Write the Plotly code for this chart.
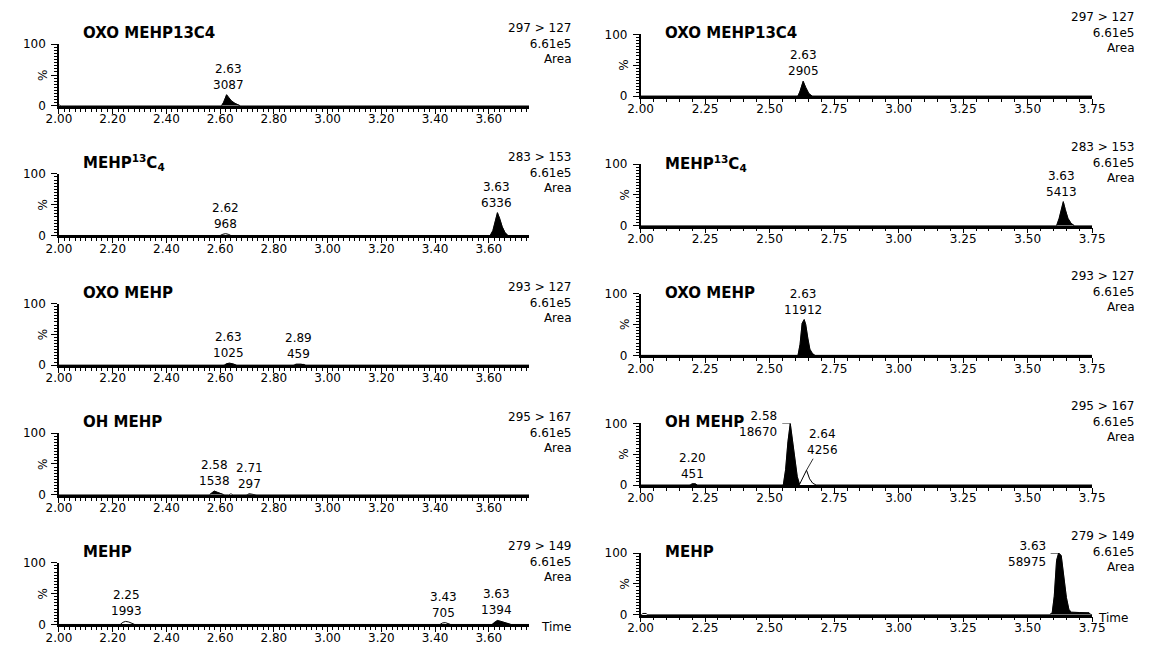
import plotly.graph_objects as go

# ------------------------------------------------------------------ data
titles = ["OXO MEHP13C4", "MEHP<sup>13</sup>C<sub>4</sub>", "OXO MEHP", "OH MEHP", "MEHP"]
transitions = ["297 > 127", "283 > 153", "293 > 127", "295 > 167", "279 > 149"]
intensity = "6.61e5"
left_ticks = [2.00, 2.20, 2.40, 2.60, 2.80, 3.00, 3.20, 3.40, 3.60]
right_ticks = [2.00, 2.25, 2.50, 2.75, 3.00, 3.25, 3.50, 3.75]

# Row 1  OXO MEHP13C4
t1L = [2.000, 2.004, 2.008, 2.605, 2.613, 2.624, 2.632, 2.642, 2.655, 2.668, 2.675, 3.750]
y1L = [1.5, 1.0, 0.0, 0.0, 6.0, 18.0, 13.0, 8.0, 4.0, 1.0, 0.0, 0.0]
win1L = [(2.603, 2.676)]
rt1L = [2.63]
area1L = [3087]

t1R = [2.000, 2.610, 2.618, 2.630, 2.640, 2.652, 2.665, 3.750]
y1R = [0.0, 0.0, 8.0, 24.0, 14.0, 4.0, 0.0, 0.0]
win1R = [(2.608, 2.667)]
rt1R = [2.63]
area1R = [2905]

# Row 2  MEHP13C4
t2L = [2.000, 2.600, 2.610, 2.620, 2.630, 2.640, 3.605, 3.615, 3.625, 3.632, 3.640, 3.650, 3.660, 3.670, 3.750]
y2L = [0.0, 0.0, 2.0, 3.0, 2.0, 0.0, 0.0, 8.0, 25.0, 37.0, 28.0, 14.0, 5.0, 0.0, 0.0]
win2L = [(3.603, 3.672)]
rt2L = [2.62, 3.63]
area2L = [968, 6336]

t2R = [2.000, 3.612, 3.622, 3.630, 3.638, 3.646, 3.656, 3.668, 3.680, 3.750]
y2R = [0.0, 0.0, 12.0, 28.0, 39.0, 26.0, 12.0, 4.0, 0.0, 0.0]
win2R = [(3.610, 3.682)]
rt2R = [3.63]
area2R = [5413]

# Row 3  OXO MEHP
t3L = [2.000, 2.615, 2.625, 2.635, 2.648, 2.660, 2.875, 2.882, 2.900, 2.912, 2.918, 3.750]
y3L = [0.0, 0.0, 2.5, 3.2, 2.0, 0.0, 0.0, 1.5, 1.6, 1.3, 0.0, 0.0]
win3L = [(2.613, 2.662), (2.873, 2.920)]
rt3L = [2.63, 2.89]
area3L = [1025, 459]

t3R = [2.000, 2.610, 2.618, 2.626, 2.634, 2.640, 2.648, 2.656, 2.666, 2.675, 3.750]
y3R = [0.0, 0.0, 18.0, 52.0, 58.0, 50.0, 28.0, 10.0, 3.0, 0.0, 0.0]
win3R = [(2.608, 2.677)]
rt3R = [2.63]
area3R = [11912]

# Row 4  OH MEHP
t4L = [2.000, 2.560, 2.570, 2.578, 2.590, 2.603, 2.614, 2.632, 2.640, 2.648, 2.700, 2.708, 2.722, 2.732, 3.750]
y4L = [0.0, 0.0, 3.5, 6.0, 4.0, 1.5, 0.0, 0.0, 1.5, 0.0, 0.0, 1.5, 1.2, 0.0, 0.0]
win4L = [(2.558, 2.616), (2.698, 2.734)]
rt4L = [2.58, 2.71]
area4L = [1538, 297]

t4R = [2.000, 2.192, 2.200, 2.212, 2.220, 2.553, 2.562, 2.571, 2.580, 2.588, 2.597, 2.607, 2.616,
       2.630, 2.643, 2.655, 2.667, 2.680, 3.750]
y4R = [0.0, 0.0, 2.0, 2.0, 0.0, 0.0, 25.0, 70.0, 100.0, 75.0, 42.0, 14.0, 1.0,
       12.0, 24.0, 10.0, 3.0, 0.0, 0.0]
win4R = [(2.190, 2.222), (2.551, 2.617)]
rt4R = [2.20, 2.58, 2.64]
area4R = [451, 18670, 4256]

# Row 5  MEHP
t5L = [2.000, 2.228, 2.238, 2.248, 2.260, 2.272, 2.282, 3.418, 3.428, 3.438, 3.450, 3.458,
       3.612, 3.622, 3.632, 3.645, 3.660, 3.672, 3.682, 3.750]
y5L = [0.0, 0.0, 3.5, 5.0, 4.0, 1.5, 0.0, 0.0, 2.5, 3.0, 1.5, 0.0,
       0.0, 4.0, 6.5, 5.0, 3.0, 1.0, 0.0, 0.0]
win5L = [(3.610, 3.684)]
rt5L = [2.25, 3.43, 3.63]
area5L = [1993, 705, 1394]

t5R = [2.000, 2.004, 2.008, 2.022, 2.026, 3.585, 3.595, 3.603, 3.612, 3.620, 3.630, 3.640,
       3.650, 3.660, 3.670, 3.700, 3.738, 3.745, 3.750]
y5R = [0.0, 0.0, 2.0, 2.0, 0.0, 0.0, 3.0, 30.0, 88.0, 100.0, 96.0, 65.0,
       28.0, 8.0, 4.0, 3.5, 3.0, 0.0, 0.0]
win5R = [(3.583, 3.747)]
rt5R = [3.63]
area5R = [58975]

panels = [
    (0, 0, t1L, y1L, win1L, rt1L, area1L), (0, 1, t1R, y1R, win1R, rt1R, area1R),
    (1, 0, t2L, y2L, win2L, rt2L, area2L), (1, 1, t2R, y2R, win2R, rt2R, area2R),
    (2, 0, t3L, y3L, win3L, rt3L, area3L), (2, 1, t3R, y3R, win3R, rt3R, area3R),
    (3, 0, t4L, y4L, win4L, rt4L, area4L), (3, 1, t4R, y4R, win4R, rt4R, area4R),
    (4, 0, t5L, y5L, win5L, rt5L, area5L), (4, 1, t5R, y5R, win5R, rt5R, area5R),
]

# ------------------------------------------------------------------ layout geometry / styles
W, H = 1157, 653
COL_PX = [(47, 528), (642, 1104)]
COL_TOP0 = [38, 28]          # right-hand column sits ~10 px higher
ROW_H, ROW_STEP = 63, 132.5
TITLE_SHIFT = [11, 1]
BLOCK_SHIFT = [1, 2]
FONT = "DejaVu Sans"
TXT = dict(family=FONT, size=12, color="#000")
label_mode = {(3, 1, 2.58): "left", (4, 1, 3.63): "left", (3, 1, 2.64): "leader"}
time_shift = [10, 4]

fig = go.Figure()
layout = dict(width=W, height=H, margin=dict(l=0, r=0, t=0, b=0),
              paper_bgcolor="white", plot_bgcolor="white", showlegend=False)
annotations = []
shapes = []

for idx, (r, c, t, y, wins, rts, areas) in enumerate(panels):
    n = idx + 1
    xa = "x" if n == 1 else f"x{n}"
    ya = "y" if n == 1 else f"y{n}"
    top = COL_TOP0[c] + r * ROW_STEP
    ydom = [1 - (top + ROW_H) / H, 1 - top / H]
    xdom = [COL_PX[c][0] / W, COL_PX[c][1] / W]
    ticks = left_ticks if c == 0 else right_ticks
    minor_dt = 0.02 if c == 0 else 0.05

    layout["xaxis" if n == 1 else f"xaxis{n}"] = dict(
        domain=xdom, range=[2.0, 3.75], anchor=ya, showgrid=False, zeroline=False,
        showline=True, linecolor="#000", linewidth=2.5,
        tickmode="array", tickvals=ticks, ticktext=[f"{v:.2f}" for v in ticks],
        ticks="outside", ticklen=5, tickwidth=1, tickcolor="#000", tickfont=TXT,
        ticklabelstandoff=-5,
        minor=dict(dtick=minor_dt, tick0=2.0, ticks="outside", ticklen=3, tickwidth=1, tickcolor="#000"),
    )
    layout["yaxis" if n == 1 else f"yaxis{n}"] = dict(
        domain=ydom, range=[0, 100], anchor=xa, showgrid=False, zeroline=False,
        showline=True, linecolor="#000", linewidth=1.5,
        tickmode="array", tickvals=[0, 50, 100], ticktext=["0", "", "100"],
        ticks="outside", ticklen=6, tickwidth=1, tickcolor="#000", tickfont=TXT,
        ticklabelstandoff=3,
        minor=dict(dtick=5, tick0=0, ticks="outside", ticklen=3, tickwidth=1, tickcolor="#000"),
    )

    # integrated (filled) peaks
    for a, b in wins:
        ft = [a] + [tt for tt in t if a <= tt <= b] + [b]
        fy = [0.0] + [yy for tt, yy in zip(t, y) if a <= tt <= b] + [0.0]
        fig.add_trace(go.Scatter(x=ft, y=fy, xaxis=xa, yaxis=ya, mode="lines", fill="toself",
                                 fillcolor="#000", line=dict(color="#000", width=0.5),
                                 hoverinfo="skip"))
    # chromatogram trace
    fig.add_trace(go.Scatter(x=t, y=y, xaxis=xa, yaxis=ya, mode="lines",
                             line=dict(color="#000", width=1), hoverinfo="skip"))

    # peak labels
    for rt, area in zip(rts, areas):
        near = [(yy, tt) for tt, yy in zip(t, y) if abs(tt - rt) <= 0.016]
        apex_y, apex_t = max(near)
        mode = label_mode.get((r, c, rt), "top")
        txt = f"{rt:.2f}<br>{area}"
        if mode == "top":
            annotations.append(dict(x=rt, y=apex_y, xref=xa, yref=ya, text=txt, showarrow=False,
                                    xanchor="center", yanchor="bottom", yshift=1, font=TXT,
                                    align="center"))
        elif mode == "left":
            annotations.append(dict(x=apex_t, y=100, xref=xa, yref=ya, text=txt, showarrow=False,
                                    xanchor="right", yanchor="middle", xshift=-11, yshift=-1,
                                    font=TXT, align="right"))
            shapes.append(dict(type="line", xref=xa, yref=ya, xsizemode="pixel", xanchor=apex_t,
                               x0=-8, x1=0, y0=100, y1=100, line=dict(color="#000", width=1)))
        else:
            annotations.append(dict(x=apex_t, y=apex_y, xref=xa, yref=ya, text=txt, showarrow=True,
                                    arrowhead=0, arrowwidth=0.8, arrowcolor="#000", ax=16, ay=-28,
                                    standoff=0, font=TXT, align="center"))

    # panel title
    annotations.append(dict(x=0, y=1, xref=f"{xa} domain", yref=f"{ya} domain", text=f"<b>{titles[r]}</b>",
                            showarrow=False, xanchor="left", yanchor="middle", xshift=22,
                            yshift=TITLE_SHIFT[c], font=dict(family=FONT, size=15, color="#000")))
    # transition / intensity / Area
    annotations.append(dict(x=1, y=1, xref=f"{xa} domain", yref=f"{ya} domain",
                            text=f"{transitions[r]}<br>{intensity}<br>Area", showarrow=False,
                            xanchor="right", yanchor="middle", xshift=45, yshift=BLOCK_SHIFT[c],
                            align="right", font=TXT))
    # % axis title
    annotations.append(dict(x=0, y=0.5, xref=f"{xa} domain", yref=f"{ya} domain", text="%",
                            showarrow=False, textangle=-90, xanchor="center", yanchor="middle",
                            xshift=-16, font=TXT))
    if r == 4:
        annotations.append(dict(x=1, y=0, xref=f"{xa} domain", yref=f"{ya} domain", text="Time",
                                showarrow=False, xanchor="left", yanchor="middle",
                                xshift=time_shift[c], yshift=-3, font=TXT))

layout["annotations"] = annotations
layout["shapes"] = shapes
fig.update_layout(**layout)
fig.write_html("out.html", config={"displayModeBar": False},
               post_script="document.body.style.margin='0';document.body.style.overflow='hidden';")
